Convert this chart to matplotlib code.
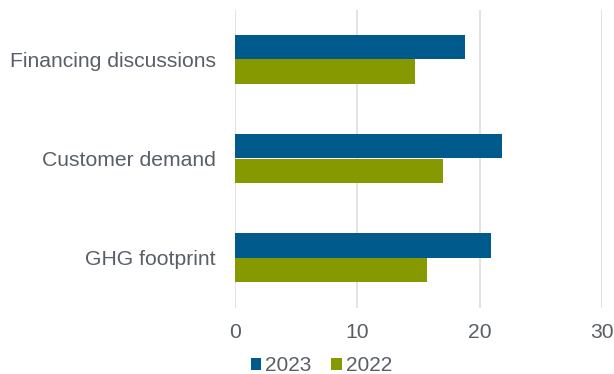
import numpy as np
import matplotlib.pyplot as plt

plt.rcParams['font.family'] = ['Liberation Sans', 'DejaVu Sans']

categories = ['Financing discussions', 'Customer demand', 'GHG footprint']
vals_2023 = [18.8, 21.8, 20.9]
vals_2022 = [14.7, 17.0, 15.7]

blue = '#005a8c'
green = '#879900'
text_grey = '#595f66'

fig = plt.figure(figsize=(6.14, 3.74), dpi=100)
ax = fig.add_axes([235 / 614, 1 - 307.5 / 374, (602 - 235) / 614, 298 / 374])

y = np.arange(len(categories))
h = 0.245
ax.barh(y - 0.125, vals_2023, height=h, color=blue, label='2023', zorder=3)
ax.barh(y + 0.125, vals_2022, height=h, color=green, label='2022', zorder=3)

ax.set_ylim(len(categories) - 0.5, -0.5)
ax.set_yticks(y)
ax.set_yticklabels(categories)
ax.set_xlim(0, 30)
ax.set_xticks([0, 10, 20, 30])

ax.grid(axis='x', color='#e3e3e3', linewidth=1.4, zorder=0)
for s in ax.spines.values():
    s.set_visible(False)
ax.tick_params(axis='both', length=0, labelsize=15.2, colors=text_grey)
ax.tick_params(axis='y', pad=14)
ax.tick_params(axis='x', pad=11)

leg = ax.legend(loc='upper left', bbox_to_anchor=(0.02, -0.135), ncol=2, frameon=False,
                fontsize=15, handlelength=0.5, handleheight=0.5, handletextpad=0.2,
                columnspacing=0.95, borderaxespad=0)
for t in leg.get_texts():
    t.set_color(text_grey)

fig.savefig('out.png', dpi=100)
